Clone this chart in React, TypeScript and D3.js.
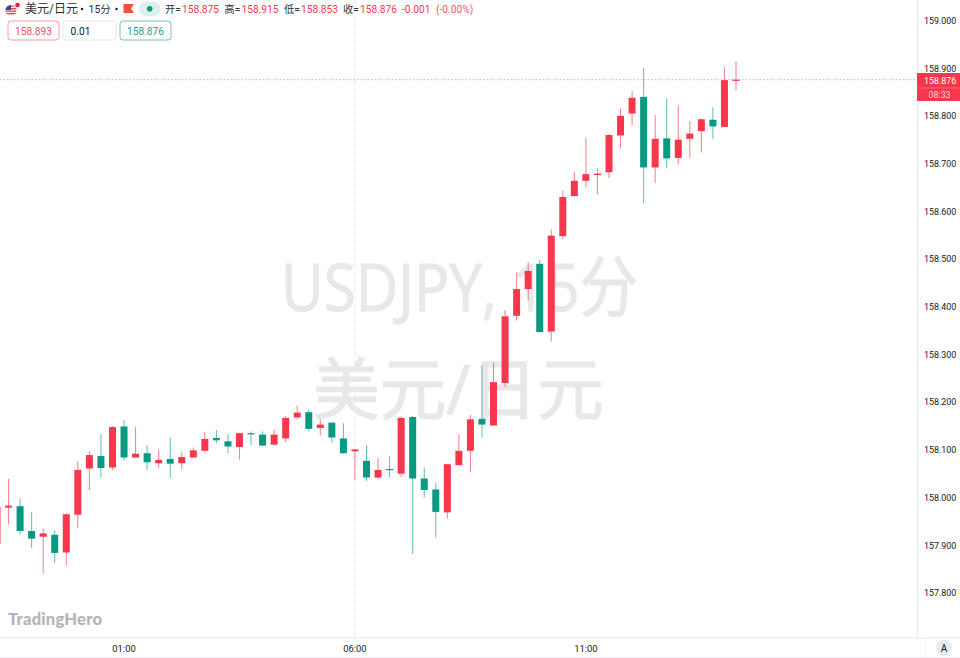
import React from "react";
import * as d3 from "d3";

const opens = [157.903,157.979,157.982,157.930,157.918,157.922,157.885,157.964,158.061,158.087,158.063,158.149,158.084,158.093,158.072,158.081,158.072,158.084,158.098,158.125,158.118,158.106,158.135,158.132,158.111,158.124,158.168,158.179,158.146,158.157,158.124,158.097,158.077,158.042,158.060,158.050,158.169,158.040,158.017,157.969,158.068,158.098,158.165,158.151,158.240,158.381,158.437,158.490,158.348,158.548,158.632,158.664,158.676,158.682,158.759,158.805,158.840,158.692,158.753,158.712,158.752,158.768,158.792,158.777,158.875];
const highs = [157.984,158.039,157.998,157.970,157.935,157.931,157.967,158.076,158.097,158.133,158.150,158.162,158.148,158.109,158.100,158.126,158.095,158.105,158.137,158.142,158.133,158.136,158.139,158.139,158.142,158.171,158.192,158.185,158.164,158.158,158.156,158.102,158.110,158.083,158.087,158.170,158.171,158.063,158.030,158.070,158.132,158.173,158.278,158.283,158.393,158.472,158.494,158.498,158.562,158.643,158.682,158.754,158.691,158.762,158.815,158.852,158.900,158.802,158.836,158.822,158.789,158.794,158.818,158.902,158.915];
const lows = [157.894,157.944,157.922,157.895,157.841,157.863,157.858,157.936,158.016,158.042,158.058,158.077,158.083,158.058,158.062,158.041,158.060,158.083,158.094,158.114,158.093,158.080,158.110,158.108,158.108,158.116,158.164,158.139,158.130,158.115,158.092,158.037,158.035,158.040,158.043,158.043,157.882,158.000,157.916,157.956,158.067,158.053,158.126,158.151,158.232,158.371,158.413,158.346,158.327,158.541,158.631,158.650,158.636,158.670,158.732,158.780,158.617,158.660,158.690,158.699,158.712,158.723,158.752,158.777,158.853];
const closes = [157.980,157.983,157.930,157.914,157.925,157.884,157.965,158.058,158.089,158.062,158.148,158.084,158.092,158.074,158.079,158.071,158.085,158.099,158.123,158.120,158.107,158.135,158.134,158.109,158.132,158.167,158.178,158.144,158.153,158.126,158.093,158.101,158.042,158.058,158.058,158.167,158.040,158.016,157.970,158.070,158.098,158.164,158.153,158.242,158.380,158.437,158.475,158.347,158.549,158.630,158.664,158.678,158.679,158.760,158.800,158.838,158.692,158.752,158.711,158.750,158.763,158.793,158.778,158.875,158.876];

const priceTicks = [159.0,158.9,158.8,158.7,158.6,158.5,158.4,158.3,158.2,158.1,158.0,157.9,157.8];
const timeTicks = [{ index: 11, label: "01:00" }, { index: 31, label: "06:00" }, { index: 51, label: "11:00" }];
const lastPrice = 158.876;
const chartName = "美元/日元";
const interval = "15分";
const ohlcLabels = [
  { x: 165, key: "开=", value: "158.875" },
  { x: 224.5, key: "高=", value: "158.915" },
  { x: 284, key: "低=", value: "158.853" },
  { x: 343, key: "收=", value: "158.876" },
];

const UP = "#f7374c";
const DOWN = "#089981";
const FONT = "Roboto, 'Noto Sans CJK SC', sans-serif";

const x = d3.scaleLinear().domain([0, 64]).range([-3, 736]);
const y = d3.scaleLinear().domain([159, 157.8]).range([20.5, 593]);
const bodyW = 7;

export default function App() {
  const lastY = y(lastPrice);
  return (
    <svg width={960} height={658} viewBox="0 0 960 658" style={{ position: "fixed", left: 0, top: 0, background: "#fff" }} fontFamily={FONT}>
      <defs>
        <clipPath id="flagClip"><circle cx={11} cy={10.5} r={5.5} /></clipPath>
        <clipPath id="plotClip"><rect x={0} y={0} width={917} height={637} /></clipPath>
      </defs>

      {/* watermark */}
      <g fill="#e7e8ea" stroke="#e7e8ea" strokeWidth={1.2} fontFamily="'Open Sans', 'Noto Sans CJK SC', sans-serif">
        <text x={281} y={310.5} fontSize={66} textLength={357} lengthAdjust="spacingAndGlyphs">USDJPY, {interval}</text>
        <text x={313} y={413.5} fontSize={67.5} textLength={291} lengthAdjust="spacingAndGlyphs">{chartName}</text>
      </g>

      {/* vertical marker at 06:00 */}
      <line x1={x(31)} x2={x(31)} y1={0} y2={637} stroke="#eeeff2" strokeWidth={1.5} strokeDasharray="4 4" />

      {/* last price line */}
      <line x1={0} x2={917} y1={lastY} y2={lastY} stroke="#fab4bd" strokeWidth={1.2} strokeDasharray="1.5 2" />

      {/* candles */}
      <g clipPath="url(#plotClip)">
        {opens.map((o, i) => {
          const c = closes[i];
          const color = c >= o ? UP : DOWN;
          const top = y(Math.max(o, c));
          const bottom = y(Math.min(o, c));
          return (
            <g key={i} fill={color}>
              <rect x={x(i) - 0.5} y={y(highs[i])} width={1} height={y(lows[i]) - y(highs[i])} opacity={0.65} />
              <rect x={x(i) - bodyW / 2} y={top} width={bodyW} height={Math.max(bottom - top, 1.2)} />
            </g>
          );
        })}
      </g>

      {/* header */}
      <g clipPath="url(#flagClip)">
        <rect x={5} y={5} width={12} height={11} fill="#f3f3f5" />
        {[5.5, 8, 10.5, 13].map((s) => <rect key={s} x={5} y={s} width={12} height={1.3} fill="#d9435a" />)}
        <rect x={5} y={5} width={6} height={5} fill="#3b4a8c" />
      </g>
      <circle cx={17.5} cy={5} r={2.3} fill="#d8263c" />
      <text x={25} y={13} fontSize={12} fill="#2a2e39">{chartName}</text>
      <circle cx={82} cy={9} r={1.2} fill="#131722" />
      <text x={88.5} y={13} fontSize={10.5} fill="#2a2e39">{interval}</text>
      <circle cx={116.5} cy={9} r={1.2} fill="#131722" />
      <path d="M123.5 4 H134 L131 8.5 L134 13 H123.5 Z" fill="#f4513a" />
      <rect x={139} y={1.5} width={21.5} height={14.5} rx={7} fill="#daf0ec" />
      <circle cx={149.7} cy={8.7} r={2.8} fill="#089981" />
      <g fontSize={10.2}>
        {ohlcLabels.map((d) => (
          <text key={d.key} x={d.x} y={12.5} fill="#2a2e39">
            {d.key}<tspan x={d.x + 17} fill={UP}>{d.value}</tspan>
          </text>
        ))}
        <text x={402} y={12.5} fill={UP}>-0.001</text>
        <text x={436} y={12.5} fill={UP} opacity={0.85}>(-0.00%)</text>
      </g>

      {/* order boxes */}
      <g fontSize={10.2} textAnchor="middle">
        <rect x={8} y={21} width={51} height={19} rx={3} fill="#fff" stroke="#f79aa5" />
        <text x={33.5} y={34.5} fill="#f0525f">158.893</text>
        <rect x={63} y={21} width={53} height={19} rx={3} fill="#fff" stroke="#e4e6ee" />
        <text x={80.5} y={34.5} fill="#131722">0.01</text>
        <rect x={120} y={21} width={51} height={19} rx={3} fill="#fff" stroke="#73c5b5" />
        <text x={145.5} y={34.5} fill="#1f9e89">158.876</text>
      </g>

      {/* logo */}
      <text x={8} y={625} fontSize={16.6} fontWeight={900} fill="#b4b4b6" fontFamily="Lato, 'Open Sans', sans-serif" letterSpacing={0.2}>TradingHero</text>

      {/* axes frame */}
      <line x1={917.5} x2={917.5} y1={0} y2={637} stroke="#e9eaee" />
      <rect x={0} y={637} width={960} height={1.5} fill="#eeeef4" />
      <line x1={0} x2={960} y1={657.5} y2={657.5} stroke="#eeeff3" />
      <line x1={925.5} x2={925.5} y1={638} y2={657} stroke="#f3f4f6" />

      {/* price axis */}
      <g fontSize={8.9} fill="#131722">
        {priceTicks.map((t) => (
          <text key={t} x={924} y={y(t) + 3.3}>{t.toFixed(3)}</text>
        ))}
      </g>
      <rect x={917} y={73} width={43} height={28} fill="#f7374c" />
      <line x1={918} x2={960} y1={88} y2={88} stroke="#f96a7a" />
      <text x={924} y={83.5} fontSize={8.9} fill="#fff">{lastPrice.toFixed(3)}</text>
      <text x={928.5} y={97.5} fontSize={8.9} fill="#fdd5da">08:33</text>

      {/* time axis */}
      <g fontSize={9.4} fill="#131722" textAnchor="middle">
        {timeTicks.map((t) => (
          <text key={t.label} x={x(t.index)} y={651.5}>{t.label}</text>
        ))}
      </g>
      <circle cx={944} cy={648} r={8} fill="#e8eaf1" />
      <text x={944} y={651.5} fontSize={10} fill="#131722" textAnchor="middle">A</text>
    </svg>
  );
}
